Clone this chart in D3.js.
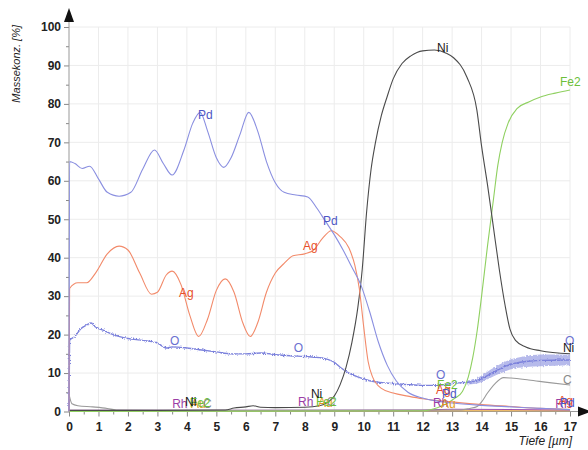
<!DOCTYPE html>
<html>
<head>
<meta charset="utf-8">
<script src="https://cdn.jsdelivr.net/npm/d3@7"></script>
<style>
  body { margin: 0; background: #fff; }
  text { font-family: "Liberation Sans", Arial, sans-serif; }
</style>
</head>
<body>
<div id="chart"></div>
<script>
// depth [µm] / mass concentration [%] pairs
const pd = [[0,0],[0.02,65],[0.2,64.5],[0.45,63.2],[0.7,63.8],[1.0,60.5],[1.3,57],[1.7,56],[2.1,57],[2.5,63],[2.9,68],[3.2,64.5],[3.5,61.5],[3.9,68],[4.2,75],[4.45,77.8],[4.7,73],[5.0,66],[5.25,63.5],[5.5,66],[5.8,72],[6.1,77.8],[6.4,73],[6.7,65],[7.0,59.5],[7.3,57],[7.7,56.3],[8.1,55.8],[8.4,53],[8.7,49.5],[9.0,46],[9.3,42],[9.6,37.5],[9.9,33],[10.2,26],[10.5,18],[10.8,12],[11.1,8],[11.5,5],[12,3.5],[12.5,2.7],[13,2.2],[14,1.6],[15,1.2],[16,0.8],[17,0.5]];
const ag = [[0,0],[0.02,32],[0.3,33.5],[0.6,33.5],[0.9,36],[1.3,41],[1.7,43],[2.0,42],[2.4,36],[2.8,30.5],[3.0,31],[3.3,35.5],[3.5,36.5],[3.8,33],[4.1,25],[4.4,19.5],[4.7,24],[5.0,31.5],[5.3,34.5],[5.6,31],[5.9,23],[6.15,19.5],[6.4,23],[6.7,31],[7.0,36],[7.3,38.5],[7.6,40.5],[8.0,41],[8.3,42],[8.6,45],[8.9,47],[9.2,45.5],[9.5,42.5],[9.7,38],[9.85,32],[10.0,22],[10.15,13],[10.3,9],[10.6,6],[11,4.8],[11.5,4],[12,3.3],[13,2.5],[14,1.8],[15,1.3],[16,0.8],[17,0.5]];
const ni = [[0,0.3],[3,0.3],[5.3,0.4],[5.6,0.9],[6.0,1.2],[6.25,1.5],[6.5,1.1],[7,1.0],[8,1.1],[8.5,1.5],[8.8,2.5],[9.0,4],[9.2,7],[9.4,11.5],[9.6,18],[9.8,27],[9.95,37],[10.1,52],[10.25,63],[10.4,70],[10.6,77],[10.8,82],[11.0,86.5],[11.3,90.5],[11.6,92.5],[12.0,93.8],[12.4,94],[12.8,93.2],[13.05,92],[13.5,87],[13.84,78.4],[14.0,69],[14.2,59],[14.4,48],[14.6,37],[14.8,27.5],[14.96,21.5],[15.15,18.5],[15.5,16.8],[16.0,15.8],[17,15]];
const fe2 = [[0,0],[12.0,0.2],[12.5,1.0],[12.85,2.2],[13.1,3.5],[13.35,5.2],[13.55,9],[13.7,14],[13.85,21],[14.0,30],[14.2,43],[14.4,55],[14.55,64],[14.7,70],[14.9,75],[15.2,78.8],[15.6,80.5],[16.0,81.8],[16.5,82.8],[17,83.6]];
const o = [[0,0],[0.02,18.5],[0.2,19.5],[0.4,21.5],[0.6,22.5],[0.75,23],[0.9,22],[1.2,21],[1.5,20],[2.0,19],[2.5,18.5],[3.0,17.8],[3.3,16.5],[3.5,16.8],[4.0,16.5],[4.5,16],[5.0,15.5],[5.5,15],[6.0,15],[6.5,15.2],[7.0,14.8],[7.5,14.5],[8.0,14.3],[8.5,14],[8.8,13.5],[9.0,12.8],[9.2,11.5],[9.5,10],[9.8,9],[10.2,8],[10.6,7.5],[11,7.3],[11.5,7],[12,6.8],[12.5,6.8],[13,7.3],[13.5,7.6],[13.8,7.9],[14.5,10.6],[15,12.3],[15.5,13],[16,13.3],[17,13.4]];
// noisy envelope of the O signal at the end of the profile
const oBandDepth = [13.5, 13.8, 14.5, 15, 15.5, 16, 16.5, 17];
const oBandLow   = [7.0, 7.2, 9.5, 11.0, 11.6, 11.8, 11.9, 12.0];
const oBandHigh  = [8.0, 8.6, 11.8, 13.6, 14.4, 14.8, 14.8, 14.8];
const c = [[0,4.5],[0.1,2],[0.3,1.5],[0.8,1.2],[1.3,0.8],[1.6,0.4],[3,0.3],[13.3,0.4],[13.6,0.8],[13.85,1.3],[14.0,2.5],[14.2,4.8],[14.45,7.2],[14.75,8.8],[15.0,8.7],[15.6,8.2],[16.3,7.5],[17,6.9]];
const rh = [[0,0.3],[12,0.4],[13,0.6],[17,0.4]];
const au = [[0,0.2],[17,0.2]];

const xTicks = d3.range(0, 18);
const yTicks = d3.range(0, 101, 10);

// label anchors: [text, depth, value]
const labels = [
  ["Rh", 3.5, 0.9], ["Rh", 7.77, 1.4], ["Rh", 12.35, 1.2], ["Rh", 16.5, 0.9],
  ["Au", 4.14, 0.9], ["Au", 8.45, 1.2], ["Au", 12.62, 0.9],
  ["C", 4.55, 0.9], ["C", 8.75, 1.4], ["C", 16.76, 7.2],
  ["Fe2", 4.1, 1.1], ["Fe2", 8.38, 1.4], ["Fe2", 12.49, 5.8], ["Fe2", 16.66, 84.7],
  ["O", 3.43, 17.3], ["O", 7.63, 15.5], ["O", 12.45, 8.5], ["O", 16.83, 17.3],
  ["Ni", 3.94, 1.4], ["Ni", 8.21, 3.5], ["Ni", 12.49, 93.6], ["Ni", 16.76, 15.5],
  ["Ag", 3.73, 29.8], ["Ag", 7.94, 42.0], ["Ag", 12.45, 4.6], ["Ag", 16.6, 1.7],
  ["Pd", 4.38, 76.1], ["Pd", 8.62, 48.5], ["Pd", 12.66, 3.5], ["Pd", 16.66, 1.2]
];

const lineColor = {Pd: "#8a8fe0", Ag: "#f28a6a", Ni: "#4a4a4a", Fe2: "#8fd060", O: "#7c82dc", C: "#9a9a9a", Rh: "#a050b0", Au: "#e6a63a"};
const textColor = {Pd: "#4c56c4", Ag: "#e8502a", Ni: "#1a1a1a", Fe2: "#6cbf3a", O: "#6a70d0", C: "#8a8a8a", Rh: "#9b3fa6", Au: "#e09a20"};

const width = 588, height = 450;
const svg = d3.select("#chart").append("svg")
  .attr("width", width)
  .attr("height", height);

const x = d3.scaleLinear().domain([0, 17]).range([69, 570]);
const y = d3.scaleLinear().domain([0, 100]).range([411.5, 27]);

// grid
svg.append("g").selectAll("line").data(xTicks.slice(1)).join("line")
  .attr("x1", d => x(d)).attr("x2", d => x(d))
  .attr("y1", y(0)).attr("y2", y(100))
  .attr("stroke", "#ececec");
svg.append("g").selectAll("line").data(yTicks.slice(1)).join("line")
  .attr("x1", x(0)).attr("x2", x(17))
  .attr("y1", d => y(d)).attr("y2", d => y(d))
  .attr("stroke", "#ececec");

// axes
svg.append("g").attr("transform", `translate(0,${y(0)})`)
  .call(d3.axisBottom(x).tickValues(xTicks).tickSize(5).tickPadding(6).tickFormat(d3.format("d")));
svg.append("g").attr("transform", `translate(0,${y(0)})`)
  .call(d3.axisBottom(x).tickValues(d3.range(0.5, 17, 1)).tickSize(3).tickFormat(""));
svg.append("g").attr("transform", `translate(${x(0)},0)`)
  .call(d3.axisLeft(y).tickValues(yTicks).tickSize(5).tickPadding(3));
svg.append("g").attr("transform", `translate(${x(0)},0)`)
  .call(d3.axisLeft(y).tickValues(d3.range(5, 100, 10)).tickSize(3).tickFormat(""));
svg.selectAll(".domain").remove();
svg.selectAll(".tick line").attr("stroke", "#888");
svg.selectAll(".tick text")
  .attr("fill", "#222")
  .attr("font-size", 12)
  .attr("font-weight", "bold")
  .attr("font-family", '"Liberation Sans", Arial, sans-serif');

svg.append("line").attr("x1", x(0)).attr("x2", 584).attr("y1", y(0)).attr("y2", y(0)).attr("stroke", "#999");
svg.append("line").attr("x1", x(0)).attr("x2", x(0)).attr("y1", y(0)).attr("y2", 16).attr("stroke", "#999");
svg.append("path").attr("d", `M${x(0) - 5},22 L${x(0)},8 L${x(0) + 5},22 Z`).attr("fill", "#111");
svg.append("path").attr("d", `M578,${y(0) - 5} L591,${y(0)} L578,${y(0) + 5} Z`).attr("fill", "#111");

// axis titles
svg.append("text")
  .attr("transform", "translate(20,25) rotate(-90)")
  .attr("text-anchor", "end")
  .attr("font-size", 11)
  .attr("font-style", "italic")
  .attr("fill", "#222")
  .text("Massekonz. [%]");
svg.append("text")
  .attr("x", 572).attr("y", 445)
  .attr("text-anchor", "end")
  .attr("font-size", 12)
  .attr("font-style", "italic")
  .attr("fill", "#222")
  .text("Tiefe [µm]");

// jitter filter for the noisy O signal
const defs = svg.append("defs");
const f = defs.append("filter").attr("id", "noise")
  .attr("x", "-5%").attr("y", "-20%").attr("width", "110%").attr("height", "140%");
f.append("feTurbulence").attr("type", "fractalNoise").attr("baseFrequency", "0.9 0.6")
  .attr("numOctaves", 1).attr("seed", 3).attr("result", "t");
f.append("feDisplacementMap").attr("in", "SourceGraphic").attr("in2", "t")
  .attr("scale", 3.5).attr("xChannelSelector", "R").attr("yChannelSelector", "G");

const line = d3.line().x(d => x(d[0])).y(d => y(d[1])).curve(d3.curveMonotoneX);

const series = [["Au", au], ["Rh", rh], ["C", c], ["Fe2", fe2], ["Ni", ni], ["Ag", ag], ["Pd", pd]];

// O band + line
svg.append("path")
  .datum(oBandDepth.map((d, i) => [d, oBandLow[i], oBandHigh[i]]))
  .attr("d", d3.area().x(d => x(d[0])).y0(d => y(d[1])).y1(d => y(d[2])).curve(d3.curveMonotoneX))
  .attr("fill", "#7c82dc")
  .attr("opacity", 0.55)
  .attr("filter", "url(#noise)");
svg.append("path")
  .datum(o)
  .attr("d", line)
  .attr("fill", "none")
  .attr("stroke", lineColor.O)
  .attr("stroke-width", 1.4)
  .attr("filter", "url(#noise)");

svg.append("g").selectAll("path").data(series).join("path")
  .attr("d", d => line(d[1]))
  .attr("fill", "none")
  .attr("stroke", d => lineColor[d[0]])
  .attr("stroke-width", 1.1);

// series labels
svg.append("g").selectAll("text").data(labels).join("text")
  .attr("x", d => x(d[1]))
  .attr("y", d => y(d[2]))
  .attr("font-size", 12)
  .attr("fill", d => textColor[d[0]])
  .text(d => d[0]);
</script>
</body>
</html>
